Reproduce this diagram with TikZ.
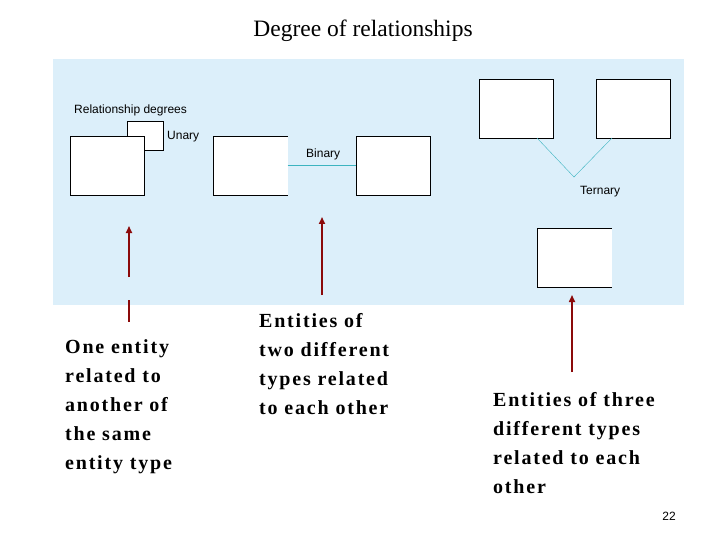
\documentclass[tikz,border=0pt]{standalone}
\usepackage{fontspec}
\setmainfont{Liberation Serif}
\setsansfont{Liberation Sans}
\usetikzlibrary{arrows.meta}
\definecolor{panelblue}{HTML}{DCEFFA}
\definecolor{linkteal}{HTML}{3CB4C0}
\definecolor{arrowred}{HTML}{8B0A0A}

\tikzset{
  entity/.style={fill=white,draw=black,thin,minimum width=74pt,minimum height=59pt,inner sep=0pt},
  bare/.style={fill=white,draw=none,minimum width=74pt,minimum height=59pt,inner sep=0pt},
  tag/.style={font=\sffamily\fontsize{12}{12}\selectfont,anchor=west,inner sep=0pt},
  note/.style={font=\bfseries\fontsize{20}{29}\selectfont\addfontfeatures{LetterSpace=9},align=left,anchor=north west,inner sep=0pt},
  pointer/.style={draw=arrowred,line width=1.6pt,-{Triangle[length=7pt,width=6pt]}}
}

\begin{document}
\begin{tikzpicture}[x=1pt,y=-1pt]

    % page and panel
    \useasboundingbox (0,0) rectangle (720,540);
    \fill[panelblue] (53,59) rectangle (684,305);

    \node (title) at (363,31) {\fontsize{23.5}{24}\selectfont Degree of relationships};
    \node[tag] (degrees) at (74,110) {Relationship degrees};

    % unary
    \draw[thin,fill=white] (127,121) rectangle (163,150);
    \node[entity] (one) at (107,165.5) {};
    \node[tag] (unary) at (167,137) {Unary};

    % binary
    \node[bare] (left) at (250.5,165.5) {};
    \draw[thin] (left.north east) -- (left.north west) -- (left.south west) -- (left.south east);
    \node[entity] (right) at (393,165.5) {};
    \draw[linkteal,thin] (left.east) -- (right.west);
    \node[tag] (binary) at (306,154) {Binary};

    % ternary
    \node[entity] (tleft) at (516,108.5) {};
    \node[entity] (tright) at (633,108.5) {};
    \coordinate (meet) at (574,177);
    \draw[linkteal,thin] (537,138) -- (meet) -- (612,138);
    \node[tag] (ternary) at (580,192) {Ternary};
    \node[bare] (tbottom) at (574.5,258) {};
    \draw[thin] (tbottom.north east) -- (tbottom.north west) -- (tbottom.south west);
    \draw[line width=1.5pt] (tbottom.south west) -- (tbottom.south east);

    % notes
    \node[note] (unote) at (65,339) {One entity\\related to\\another of\\the same\\entity type};
    \node[note] (bnote) at (259,313) {Entities of\\two different\\types related\\to each other};
    \node[note] (tnote) at (493,392) {Entities of three\\different types\\related to each\\other};

    % pointers
    \coordinate (ua) at (129,277);
    \coordinate (ub) at (129,226);
    \draw[pointer] (ua) -- (ub);
    \draw[draw=arrowred,line width=1.6pt] (129,300) -- (129,322);
    \coordinate (ba) at (322,295);
    \coordinate (bb) at (322,217);
    \draw[pointer] (ba) -- (bb);
    \coordinate (ta) at (572,372);
    \coordinate (tb) at (572,295);
    \draw[pointer] (ta) -- (tb);

    \node (page) at (669,516) {\sffamily\fontsize{12}{12}\selectfont 22};

\end{tikzpicture}
\end{document}
